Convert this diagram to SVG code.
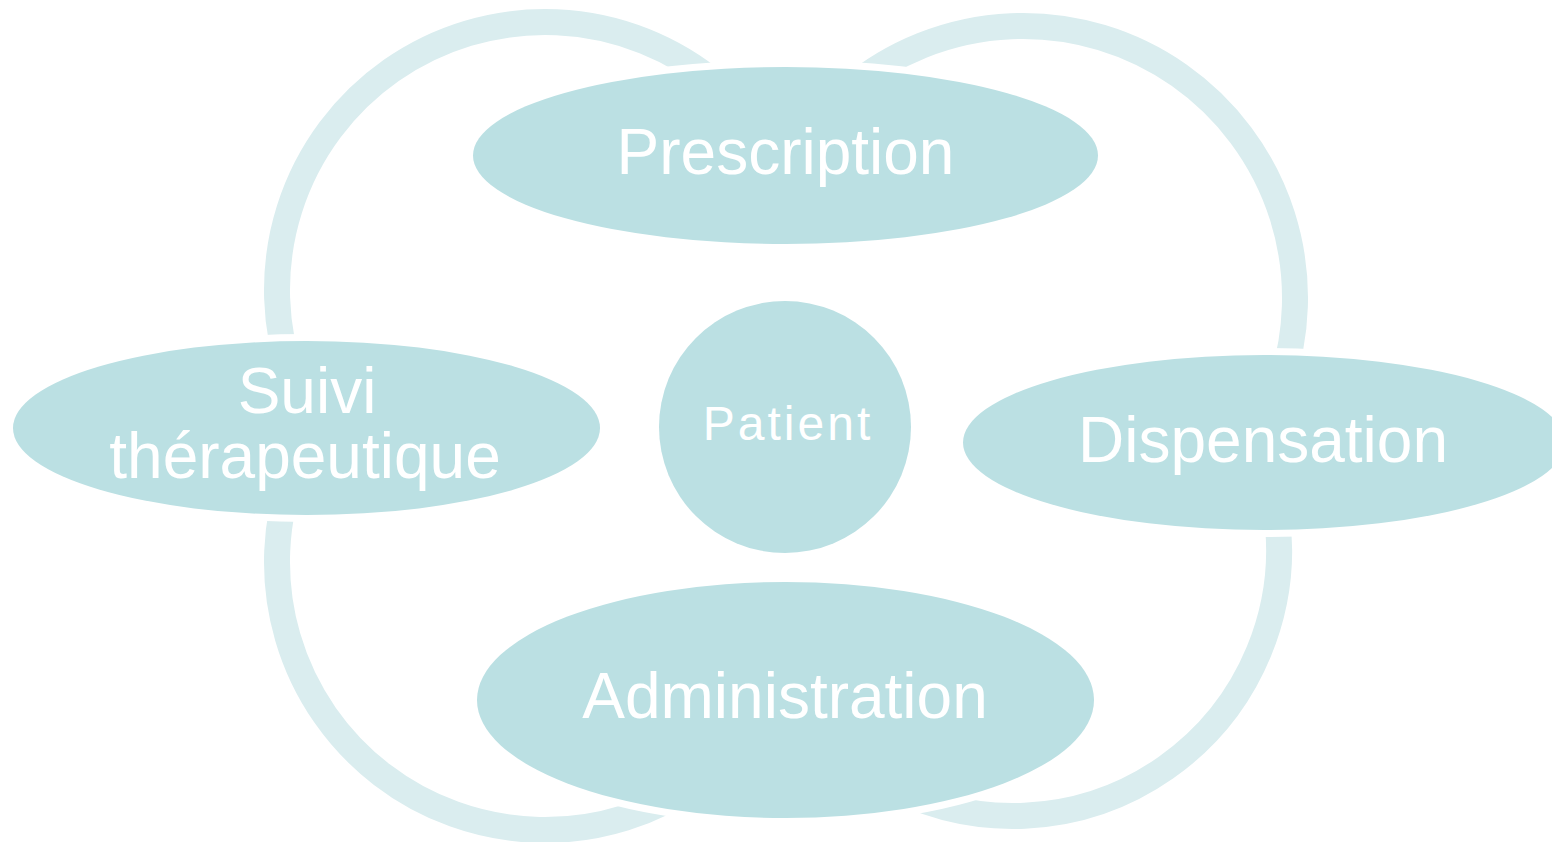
<svg xmlns="http://www.w3.org/2000/svg" width="1552" height="842" viewBox="0 0 1552 842">
<style>
.arc{fill:none;stroke:#DAEDEF;stroke-width:26}
.node{fill:#BBE0E3;stroke:#FFFFFF;stroke-width:14;paint-order:stroke}
.lbl{font-family:"Liberation Sans",Arial,sans-serif;font-size:64px;fill:#FFFFFF;text-anchor:middle}
</style>
<rect width="1552" height="842" fill="#FFFFFF"/>
<g id="connectors">
<path class="arc" d="M293.16,381.66 A268,268 0 0 1 717.27,84.70"/>
<path class="arc" d="M848.16,89.64 A272,272 0 0 1 1278.6,391.03"/>
<path class="arc" d="M1274.96,503.81 A266,266 0 0 1 880,780.36"/>
<path class="arc" d="M698.72,781.53 A268,268 0 0 1 293.16,470.34"/>
</g>
<g id="prescription">
<ellipse class="node" cx="785.5" cy="155.5" rx="312.5" ry="88.5"/>
<text class="lbl" x="785.5" y="174">Prescription</text>
</g>
<g id="suivi">
<ellipse class="node" cx="306.5" cy="428" rx="293.5" ry="87"/>
<text class="lbl" x="307" y="413">Suivi</text>
<text class="lbl" x="305" y="478">thérapeutique</text>
</g>
<g id="dispensation">
<ellipse class="node" cx="1264" cy="442.5" rx="301" ry="87.5"/>
<text class="lbl" x="1263" y="462">Dispensation</text>
</g>
<g id="administration">
<ellipse class="node" cx="785.5" cy="700" rx="308.5" ry="118"/>
<text class="lbl" x="785" y="718">Administration</text>
</g>
<g id="patient">
<circle class="node" cx="785" cy="427" r="126"/>
<text class="lbl" x="788" y="440" style="font-size:48px;letter-spacing:3px">Patient</text>
</g>
</svg>
